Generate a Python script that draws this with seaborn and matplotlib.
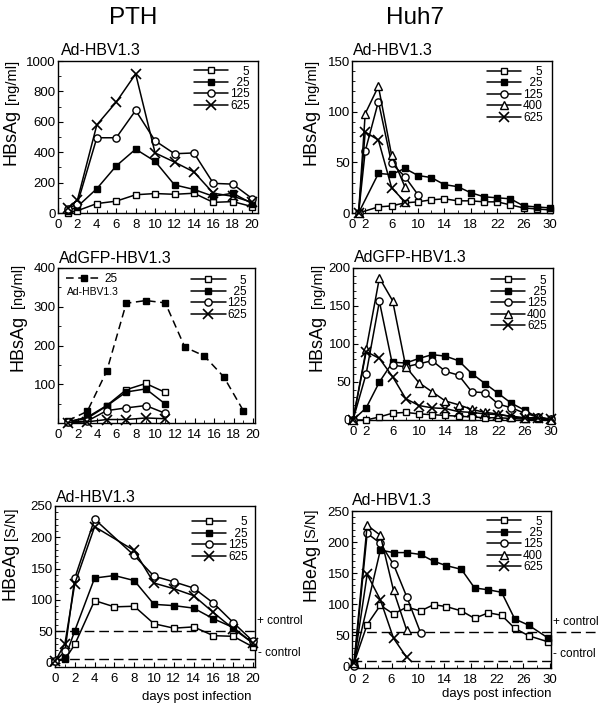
import numpy as np
import pandas as pd
import matplotlib
matplotlib.use('Agg')
import matplotlib.pyplot as plt
import seaborn as sns
from matplotlib.ticker import MultipleLocator, FixedLocator

sns.set_theme(style='ticks')
plt.rcParams['font.family'] = ['Liberation Sans', 'DejaVu Sans']
for k in ['text.color', 'axes.labelcolor', 'xtick.color', 'ytick.color', 'axes.edgecolor']:
    plt.rcParams[k] = 'black'

# ---------------- data ----------------
# PTH, Ad-HBV1.3, HBsAg [ng/ml]
pth_s_days = [1, 2, 4, 6, 8, 10, 12, 14, 16, 18, 20]
pth_s_5 = [3, 15, 62, 78, 120, 128, 123, 130, 70, 75, 42]
pth_s_25 = [12, 42, 160, 310, 420, 340, 185, 155, 110, 130, 62]
pth_s_125 = [25, 62, 495, 495, 675, 475, 390, 395, 195, 190, 95]
pth_s_625 = [30, 85, 580, 730, 915, 395, 335, 270, 130, 110, 70]

# Huh7, Ad-HBV1.3, HBsAg [ng/ml]
huh_s_days_lo = [1, 4, 6, 8, 10, 12, 14, 16, 18, 20, 22, 24, 26, 28, 30]
huh_s_5 = [0, 6, 7, 10, 11, 13, 14, 12, 12, 11, 11, 8, 5, 4, 3]
huh_s_25 = [0, 39, 38, 44, 37, 35, 28, 26, 20, 16, 15, 14, 7, 6, 5]
huh_s_days_125 = [1, 2, 4, 6, 8, 10]
huh_s_125 = [0, 61, 110, 49, 36, 18]
huh_s_days_hi = [1, 2, 4, 6, 8]
huh_s_400 = [0, 98, 125, 57, 26]
huh_s_625 = [0, 80, 72, 25, 11]

# PTH, AdGFP-HBV1.3, HBsAg [ng/ml]
gfp_pth_ref_days = [1, 3, 5, 7, 9, 11, 13, 15, 17, 19]
gfp_pth_ref_25 = [6, 30, 134, 309, 316, 310, 196, 173, 119, 32]
gfp_pth_days = [1, 3, 5, 7, 9, 11]
gfp_pth_5 = [3, 15, 45, 86, 102, 79]
gfp_pth_25 = [3, 12, 44, 80, 88, 49]
gfp_pth_125 = [2, 5, 32, 39, 45, 25]
gfp_pth_625 = [1, 3, 9, 9, 13, 11]

# Huh7, AdGFP-HBV1.3, HBsAg [ng/ml]
gfp_huh_days = [0, 2, 4, 6, 8, 10, 12, 14, 16, 18, 20, 22, 24, 26, 28, 30]
gfp_huh_5 = [0, 0, 4, 9, 10, 8, 7, 6, 5, 4, 3, 3, 2, 1, 1, 0]
gfp_huh_25 = [0, 16, 50, 76, 75, 81, 86, 84, 78, 61, 48, 35, 22, 13, 3, 1]
gfp_huh_125 = [0, 61, 156, 72, 70, 74, 78, 64, 59, 37, 36, 21, 16, 9, 4, 1]
gfp_huh_400 = [0, 93, 187, 157, 70, 49, 37, 25, 20, 14, 10, 8, 4, 2, 4, 0]
gfp_huh_625 = [0, 90, 81, 57, 28, 19, 16, 15, 11, 10, 8, 7, 5, 3, 2, 1]

# PTH, Ad-HBV1.3, HBeAg [S/N]
pth_e_days_a = [0, 1, 2, 4, 6, 8, 10, 12, 14, 16, 18, 20]
pth_e_5 = [2, 5, 29, 99, 89, 90, 62, 55, 57, 43, 42, 25]
pth_e_25 = [2, 7, 51, 135, 139, 131, 93, 91, 87, 70, 56, 31]
pth_e_days_b = [0, 1, 2, 4, 8, 10, 12, 14, 16, 18, 20]
pth_e_125 = [2, 18, 135, 229, 171, 138, 129, 119, 95, 64, 34]
pth_e_625 = [2, 30, 126, 217, 179, 127, 118, 107, 80, 54, 31]
pth_e_pos, pth_e_neg = 51, 6

# Huh7, Ad-HBV1.3, HBeAg [S/N]
huh_e_days = [0.3, 2.3, 4.3, 6.3, 8.3, 10.4, 12.4, 14.3, 16.6, 18.6, 20.7, 22.7, 24.7, 26.8, 29.8]
huh_e_5 = [5, 67, 98, 84, 95, 89, 99, 96, 89, 77, 86, 82, 61, 49, 39]
huh_e_days_25 = [0.3, 4.3, 6.3, 8.3, 10.4, 12.4, 14.3, 16.6, 18.6, 20.7, 22.7, 24.7, 26.8, 29.8]
huh_e_25 = [5, 187, 183, 183, 180, 169, 162, 156, 126, 123, 119, 76, 66, 45]
huh_e_days_125 = [0.3, 2.3, 4.3, 6.3, 8.3, 10.4]
huh_e_125 = [0, 214, 198, 164, 112, 54]
huh_e_days_hi = [0.3, 2.3, 4.3, 6.3, 8.3]
huh_e_400 = [5, 227, 211, 122, 58]
huh_e_625 = [5, 148, 107, 45, 14]
huh_e_pos, huh_e_neg = 55, 9

labels_pth = ['5', '25', '125', '625']
labels_huh = ['5', '25', '125', '400', '625']

# ---------------- styling ----------------
STY = {
    '5': dict(marker='s', markersize=4.8, markerfacecolor='white'),
    '25': dict(marker='s', markersize=4.8, markerfacecolor='black'),
    '125': dict(marker='o', markersize=5.2, markerfacecolor='white'),
    '400': dict(marker='^', markersize=6.0, markerfacecolor='white'),
    '625': dict(marker='x', markersize=6.5, markeredgewidth=1.2),
}

W, H = 604, 710
fig = plt.figure(figsize=(W / 100, H / 100), dpi=100)


def add_ax(l, t, r, b):
    return fig.add_axes([l / W, 1 - b / H, (r - l) / W, (b - t) / H])


def series(ax, x, y, key, ls='-'):
    kw = dict(STY[key])
    kw.setdefault('markeredgewidth', 1.0)
    sns.lineplot(x=x, y=y, ax=ax, color='black', linewidth=1.1, linestyle=ls,
                 markeredgecolor='black', clip_on=False, zorder=3, **kw)
    return ax.lines[-1]


def legend(ax, handles, labels, xr, yt, loc='upper right', fs=8.5):
    n = max(len(s) for s in labels)
    padded = ['\u2007' * (n - len(s)) + s for s in labels]
    leg = ax.legend(handles, padded, loc=loc, bbox_to_anchor=(xr, yt),
                    bbox_transform=ax.transAxes, frameon=False, fontsize=fs,
                    handlelength=2.9, handletextpad=0.15, labelspacing=-0.05,
                    borderpad=0, borderaxespad=0, numpoints=1)
    return leg


def style_ax(ax, xlim, ylim, xmaj, ymaj, xminor=1, yminor=None):
    ax.set_xlim(*xlim)
    ax.set_ylim(*ylim)
    ax.xaxis.set_major_locator(FixedLocator(xmaj))
    ax.yaxis.set_major_locator(FixedLocator(ymaj))
    ax.xaxis.set_minor_locator(MultipleLocator(xminor))
    if yminor:
        ax.yaxis.set_minor_locator(MultipleLocator(yminor))
    ax.tick_params(which='major', direction='in', length=3.5, width=0.8,
                   labelsize=9.5, top=False, right=False)
    ax.tick_params(axis='x', which='major', pad=4.5)
    ax.tick_params(axis='y', which='major', pad=1.5)
    ax.tick_params(which='minor', direction='in', length=2, width=0.6,
                   top=False, right=False)
    for s in ax.spines.values():
        s.set_linewidth(1.0)
        s.set_color('black')
    ax.set_xlabel('')
    ax.set_ylabel('')


def ftext(x, y, s, **kw):
    return fig.text(x / W, 1 - y / H, s, **kw)


def ylab(xb, ymain, yunit, main, unit):
    ftext(xb, ymain, main, rotation=90, rotation_mode='anchor', ha='left',
          va='baseline', fontsize=13)
    ftext(xb, yunit, unit, rotation=90, rotation_mode='anchor', ha='left',
          va='baseline', fontsize=10.5)


# column headers
ftext(133, 18, 'PTH', fontsize=17.5, ha='center', va='center')
ftext(415, 18, 'Huh7', fontsize=17.5, ha='center', va='center')

# ---------- panel 1: PTH Ad-HBV1.3 HBsAg ----------
ax = add_ax(58, 61, 258, 213)
hs = [series(ax, pth_s_days, v, k) for v, k in
      zip([pth_s_5, pth_s_25, pth_s_125, pth_s_625], labels_pth)]
style_ax(ax, (0, 20.6), (0, 1000), range(0, 21, 2), range(0, 1001, 200), 1, 100)
legend(ax, hs, labels_pth, 0.96, 0.97)
ftext(61, 55, 'Ad-HBV1.3', fontsize=11.5, ha='left', va='baseline')
ylab(15.5, 165, 104, 'HBsAg', '[ng/ml]')

# ---------- panel 2: Huh7 Ad-HBV1.3 HBsAg ----------
ax = add_ax(352, 61, 552, 213)
hs = [series(ax, huh_s_days_lo, huh_s_5, '5'),
      series(ax, huh_s_days_lo, huh_s_25, '25'),
      series(ax, huh_s_days_125, huh_s_125, '125'),
      series(ax, huh_s_days_hi, huh_s_400, '400'),
      series(ax, huh_s_days_hi, huh_s_625, '625')]
style_ax(ax, (0, 30.3), (0, 150), [0, 2, 6, 10, 14, 18, 22, 26, 30], [0, 50, 100, 150], 2, 10)
legend(ax, hs, labels_huh, 0.955, 0.967)
ftext(353, 55, 'Ad-HBV1.3', fontsize=11.5, ha='left', va='baseline')
ylab(315.5, 165, 104, 'HBsAg', '[ng/ml]')

# ---------- panel 3: PTH AdGFP-HBV1.3 HBsAg ----------
ax = add_ax(58, 268, 255, 423)
ref = series(ax, gfp_pth_ref_days, gfp_pth_ref_25, '25', ls=(0, (5, 3)))
hs = [series(ax, gfp_pth_days, v, k) for v, k in
      zip([gfp_pth_5, gfp_pth_25, gfp_pth_125, gfp_pth_625], labels_pth)]
style_ax(ax, (0, 20.2), (0, 400), range(0, 21, 2), [100, 200, 300, 400], 1, 50)
l1 = legend(ax, hs, labels_pth, 0.96, 0.958)
ax.add_artist(l1)
ax.legend([ref], ['25'], loc='upper left', bbox_to_anchor=(0.04, 0.965),
          bbox_transform=ax.transAxes, frameon=False, fontsize=8.5,
          handlelength=3.0, handletextpad=0.3, borderpad=0, borderaxespad=0,
          numpoints=1)
ftext(67, 292, 'Ad-HBV1.3', fontsize=7.5, ha='left', va='center')
ftext(59, 263, 'AdGFP-HBV1.3', fontsize=11.5, ha='left', va='baseline')
ylab(22, 371, 308, 'HBsAg', '[ng/ml]')

# ---------- panel 4: Huh7 AdGFP-HBV1.3 HBsAg ----------
ax = add_ax(353, 268, 553, 420)
hs = [series(ax, gfp_huh_days, v, k) for v, k in
      zip([gfp_huh_5, gfp_huh_25, gfp_huh_125, gfp_huh_400, gfp_huh_625], labels_huh)]
style_ax(ax, (0, 30.3), (0, 200), [0, 2, 6, 10, 14, 18, 22, 26, 30], range(0, 201, 50), 2, 10)
legend(ax, hs, labels_huh, 0.97, 0.957)
ftext(354, 262, 'AdGFP-HBV1.3', fontsize=11.5, ha='left', va='baseline')
ylab(322, 371, 308, 'HBsAg', '[ng/ml]')

# ---------- panel 5: PTH Ad-HBV1.3 HBeAg ----------
ax = add_ax(55, 506, 255, 667)
hs = [series(ax, pth_e_days_a, pth_e_5, '5'),
      series(ax, pth_e_days_a, pth_e_25, '25'),
      series(ax, pth_e_days_b, pth_e_125, '125'),
      series(ax, pth_e_days_b, pth_e_625, '625')]
dash = (0, (7, 3.5))
ax.axhline(pth_e_pos, xmin=0, xmax=1.015, color='black', lw=1.0, ls=dash, clip_on=False, zorder=1)
ax.axhline(pth_e_neg, xmin=0, xmax=1.015, color='black', lw=1.0, ls=dash, clip_on=False, zorder=1)
style_ax(ax, (0, 20.2), (-7, 250), range(0, 21, 2), range(0, 251, 50), 1, 10)
legend(ax, hs, labels_pth, 0.965, 0.935)
ftext(56, 502, 'Ad-HBV1.3', fontsize=11.5, ha='left', va='baseline')
ylab(15, 600, 540, 'HBeAg', '[S/N]')
ftext(257, 621, '+ control', fontsize=8.5, ha='left', va='center')
ftext(258, 653, '- control', fontsize=8.5, ha='left', va='center')
ftext(251, 697, 'days post infection', fontsize=9.5, ha='right', va='center')

# ---------- panel 6: Huh7 Ad-HBV1.3 HBeAg ----------
ax = add_ax(352, 511, 551, 668)
hs = [series(ax, huh_e_days, huh_e_5, '5'),
      series(ax, huh_e_days_25, huh_e_25, '25'),
      series(ax, huh_e_days_125, huh_e_125, '125'),
      series(ax, huh_e_days_hi, huh_e_400, '400'),
      series(ax, huh_e_days_hi, huh_e_625, '625')]
ax.axhline(huh_e_pos, xmin=0, xmax=1.236, color='black', lw=1.0, ls=dash, clip_on=False, zorder=1)
ax.axhline(huh_e_neg, xmin=0, xmax=1.025, color='black', lw=1.0, ls=dash, clip_on=False, zorder=1)
style_ax(ax, (0, 30.2), (-3, 250), [0, 2, 6, 10, 14, 18, 22, 26, 30], range(0, 251, 50), 2, 10)
legend(ax, hs, labels_huh, 0.96, 0.971)
ftext(352, 505, 'Ad-HBV1.3', fontsize=11.5, ha='left', va='baseline')
ylab(315, 601, 541, 'HBeAg', '[S/N]')
ftext(553, 622, '+ control', fontsize=8.5, ha='left', va='center')
ftext(553, 654, '- control', fontsize=8.5, ha='left', va='center')
ftext(551, 694, 'days post infection', fontsize=9.5, ha='right', va='center')

fig.savefig('out.png', dpi=100)
